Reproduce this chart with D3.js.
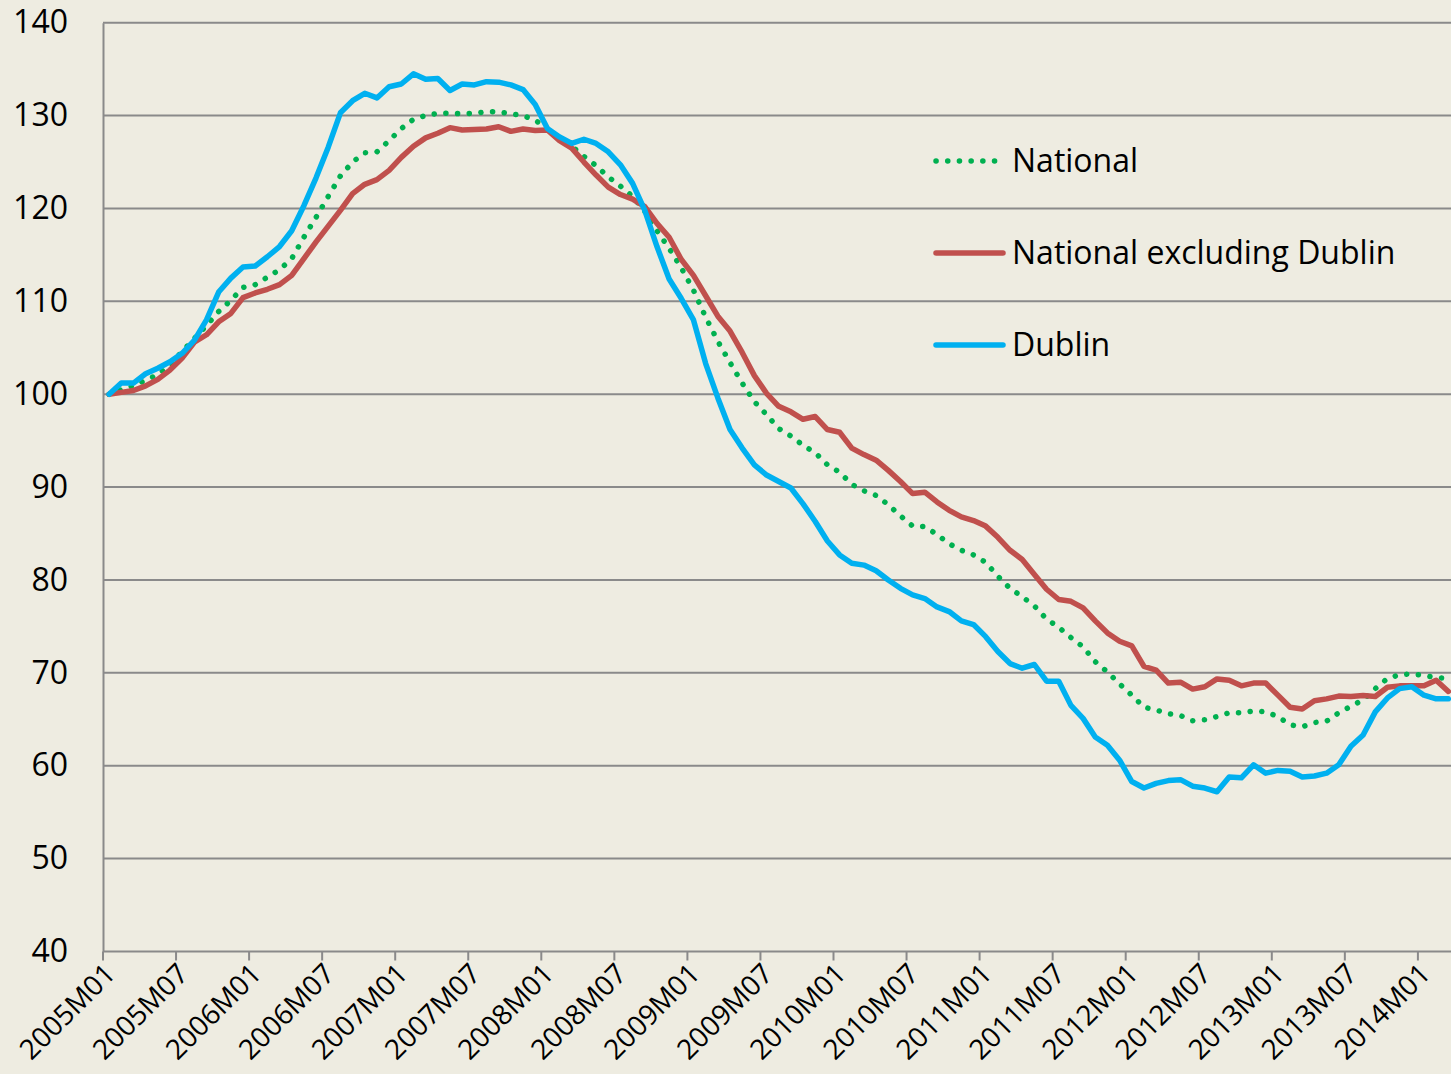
<!DOCTYPE html>
<html>
<head>
<meta charset="utf-8">
<script src="https://cdn.jsdelivr.net/npm/d3@7/dist/d3.min.js"></script>
<style>
  html, body { margin: 0; padding: 0; background: #EEECE1; }
  svg { display: block; }
  text { font-family: "Open Sans", "Noto Sans", sans-serif; fill: #000; }
</style>
</head>
<body>
<script>
// ---------- DATA ----------
const startYear = 2005, endYear = 2014, lastMonthIndex = 111; // 2005M01 .. 2014M03
const categories = [];
for (let y = startYear; y <= endYear; y++) {
  for (let m = 1; m <= 12; m++) categories.push(y + "M" + String(m).padStart(2, "0"));
}
categories.length = lastMonthIndex;

const tickLabels = ["2005M01","2005M07","2006M01","2006M07","2007M01","2007M07","2008M01","2008M07",
  "2009M01","2009M07","2010M01","2010M07","2011M01","2011M07","2012M01","2012M07","2013M01","2013M07","2014M01"];

const yTicks = [40, 50, 60, 70, 80, 90, 100, 110, 120, 130, 140];

const seriesNames = ["National", "National excluding Dublin", "Dublin"];

const national = [
  100, 100.5, 100.9, 101.5, 102.1, 103.2, 104.6, 106.0, 107.4, 108.9,
  110.1, 111.5, 111.8, 112.6, 113.4, 114.6, 116.9, 119.05, 121.3, 123.5,
  125.0, 126.0, 126.1, 127.3, 128.6, 129.6, 130.0, 130.25, 130.25, 130.2,
  130.25, 130.4, 130.4, 130.2, 130.0, 129.5, 128.6, 127.6, 126.7, 125.6,
  124.6, 123.4, 122.4, 121.3, 119.7, 117.6, 115.7, 113.6, 111.2, 108.3,
  105.7, 103.4, 101.2, 99.2, 97.8, 96.3, 95.5, 94.5, 93.7, 92.4,
  91.6, 90.3, 89.6, 89.1, 88.1, 86.9, 85.8, 85.75, 84.9, 83.9,
  83.2, 82.7, 81.9, 80.4, 79.1, 78.2, 77.2, 75.8, 74.9, 73.8,
  72.8, 71.2, 70.1, 68.8, 67.6, 66.3, 66.0, 65.6, 65.4, 64.85,
  64.95, 65.3, 65.7, 65.7, 65.9, 65.8, 65.3, 64.4, 64.2, 64.65,
  64.8, 65.7, 66.4, 67.1, 68.3, 69.4, 69.8, 69.9, 69.7, 69.5,
  69.4
];

const nationalExDublin = [
  100.0, 100.2, 100.4, 100.9, 101.6, 102.6, 103.9, 105.6, 106.4, 107.8,
  108.7, 110.4, 110.9, 111.3, 111.8, 112.8, 114.6, 116.4, 118.1, 119.8,
  121.6, 122.6, 123.1, 124.1, 125.5, 126.7, 127.6, 128.1, 128.7, 128.45,
  128.5, 128.55, 128.8, 128.3, 128.55, 128.4, 128.45, 127.3, 126.5, 125.0,
  123.6, 122.3, 121.5, 121.0, 120.2, 118.4, 116.9, 114.5, 112.8, 110.6,
  108.4, 106.8, 104.5, 102.0, 100.1, 98.7, 98.1, 97.3, 97.6, 96.2,
  95.9, 94.2, 93.5, 92.9, 91.8, 90.6, 89.3, 89.45, 88.4, 87.5,
  86.8, 86.4, 85.8, 84.6, 83.2, 82.2, 80.6, 79.0, 77.9, 77.7,
  77.0, 75.6, 74.3, 73.4, 72.9, 70.7, 70.3, 68.9, 69.0, 68.25,
  68.5, 69.35, 69.2, 68.6, 68.9, 68.9, 67.6, 66.3, 66.1, 67.0,
  67.2, 67.5, 67.45, 67.55, 67.45, 68.45, 68.6, 68.6, 68.6, 69.2,
  68.0
];

const dublin = [
  100, 101.2, 101.2, 102.2, 102.8, 103.5, 104.4, 105.8, 108.0, 111.0,
  112.5, 113.7, 113.8, 114.8, 115.9, 117.6, 120.3, 123.3, 126.6, 130.3,
  131.6, 132.4, 131.9, 133.1, 133.4, 134.5, 133.9, 134.0, 132.7, 133.4,
  133.3, 133.65, 133.6, 133.3, 132.8, 131.2, 128.6, 127.7, 127.0, 127.45,
  127.0, 126.1, 124.7, 122.7, 119.8, 115.9, 112.4, 110.3, 108.0, 103.3,
  99.6, 96.2, 94.2, 92.4, 91.3, 90.6, 89.9, 88.2, 86.3, 84.2,
  82.7, 81.8, 81.6, 81.0, 80.0, 79.1, 78.4, 78.0, 77.1, 76.6,
  75.6, 75.2, 73.9, 72.3, 71.0, 70.5, 70.9, 69.1, 69.1, 66.5,
  65.1, 63.1, 62.2, 60.6, 58.3, 57.6, 58.1, 58.4, 58.5, 57.8,
  57.6, 57.2, 58.8, 58.7, 60.1, 59.2, 59.5, 59.4, 58.8, 58.9,
  59.2, 60.1, 62.1, 63.3, 65.8, 67.3, 68.3, 68.5, 67.6, 67.2,
  67.2
];

// ---------- LAYOUT ----------
const W = 1451, H = 1074;
const plotLeft = 103, plotTop = 22.7, plotBottom = 951.5;
const step = 12.175;
const plotRight = plotLeft + step * categories.length;

const svg = d3.select("body").append("svg").attr("width", W).attr("height", H);
svg.append("rect").attr("width", W).attr("height", H).attr("fill", "#EEECE1");

const x = d3.scaleBand().domain(categories).range([plotLeft, plotRight]).padding(0);
const y = d3.scaleLinear().domain([40, 140]).range([plotBottom, plotTop]);
const xc = c => x(c) + x.bandwidth() / 2;

// Gridlines
svg.append("g").selectAll("line").data(yTicks.filter(t => t > 40)).join("line")
  .attr("x1", plotLeft).attr("x2", W)
  .attr("y1", d => y(d)).attr("y2", d => y(d))
  .attr("stroke", "#8A8A8A").attr("stroke-width", 2);

// Y axis
const yAxis = d3.axisLeft(y).tickValues(yTicks).tickSize(0).tickPadding(35).tickFormat(d3.format("d"));
const gy = svg.append("g").attr("transform", `translate(${plotLeft},0)`).call(yAxis);
gy.select(".domain").attr("stroke", "#8A8A8A").attr("stroke-width", 2);
gy.selectAll("text").attr("font-size", 32).attr("font-family", '"Open Sans", sans-serif').attr("fill", "#000");

// X axis line + ticks
svg.append("line").attr("x1", plotLeft).attr("x2", W).attr("y1", plotBottom).attr("y2", plotBottom)
  .attr("stroke", "#8A8A8A").attr("stroke-width", 2);
svg.append("g").selectAll("line").data(tickLabels).join("line")
  .attr("x1", d => x(d)).attr("x2", d => x(d))
  .attr("y1", plotBottom).attr("y2", plotBottom + 9)
  .attr("stroke", "#8A8A8A").attr("stroke-width", 2);
svg.append("g").selectAll("text").data(tickLabels).join("text")
  .attr("transform", d => `translate(${xc(d) + 8},${plotBottom + 24}) rotate(-45)`)
  .attr("text-anchor", "end")
  .attr("font-size", 28)
  .text(d => d);

// Lines
const line = d3.line().x((d, i) => xc(categories[i])).y(d => y(d));
const styles = [
  { data: national, color: "#00B050", dash: "0.1 11.6", width: 5.5, cap: "round" },
  { data: nationalExDublin, color: "#C0504D", dash: null, width: 5.5, cap: "round" },
  { data: dublin, color: "#00B0F0", dash: null, width: 5.5, cap: "round" }
];
styles.forEach(s => {
  svg.append("path").datum(s.data).attr("d", line)
    .attr("fill", "none").attr("stroke", s.color).attr("stroke-width", s.width)
    .attr("stroke-linejoin", "round").attr("stroke-linecap", s.cap)
    .attr("stroke-dasharray", s.dash);
});

// Legend
const legendY = [161, 253, 345];
const lg = svg.append("g");
seriesNames.forEach((name, k) => {
  const s = styles[k];
  lg.append("line").attr("x1", 936).attr("x2", 1003).attr("y1", legendY[k]).attr("y2", legendY[k])
    .attr("stroke", s.color).attr("stroke-width", s.width)
    .attr("stroke-linecap", "round").attr("stroke-dasharray", s.dash);
  lg.append("text").attr("x", 1012).attr("y", legendY[k] + 11).attr("font-size", 32).text(name);
});
</script>
</body>
</html>
